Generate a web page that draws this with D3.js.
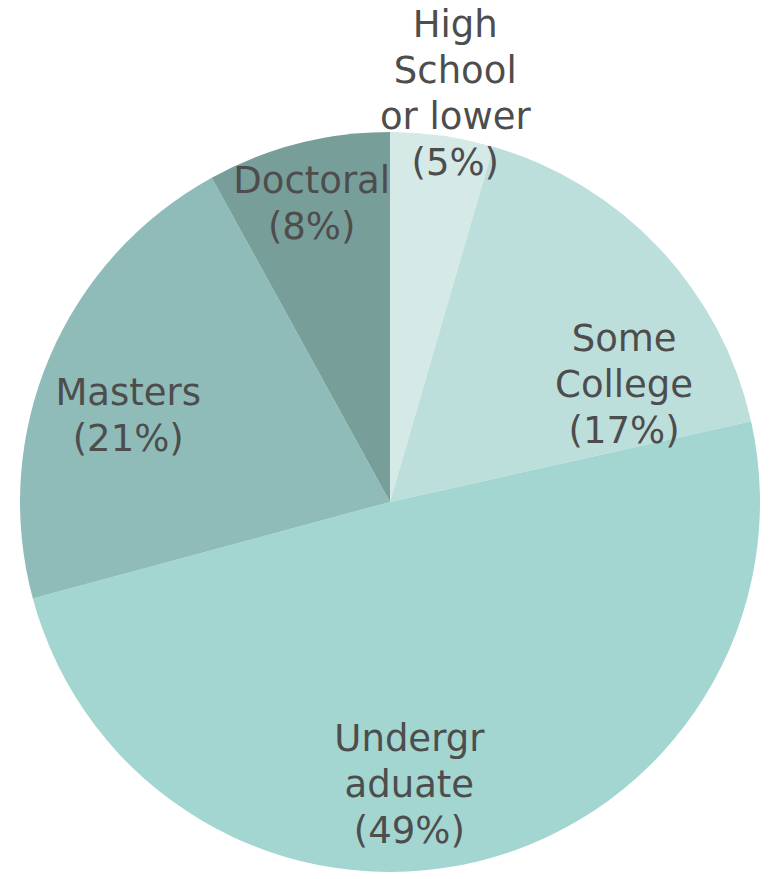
<!DOCTYPE html>
<html>
<head>
<meta charset="utf-8">
<script src="https://cdn.jsdelivr.net/npm/d3@7"></script>
<style>
  html, body { margin: 0; padding: 0; background: #fff; }
  text { font-family: "DejaVu Sans", sans-serif; fill: #4d4d4d; }
</style>
</head>
<body>
<div id="chart"></div>
<script>
// Education level shares (clockwise from 12 o'clock)
var categories = ["High School or lower", "Some College", "Undergraduate", "Masters", "Doctoral"];
var labelLines = [["High", "School", "or lower"], ["Some", "College"], ["Undergr", "aduate"], ["Masters"], ["Doctoral"]];
var values = [4.5, 17.0, 49.3, 21.2, 8.0];
var colors = ["#d5e9e6", "#bddfdc", "#a3d5d1", "#8fbcb9", "#789e9a"];

// label placement: fraction along the slice angle, distance from centre
var labelT = [0.56, 0.77, 0.556, 0.44, 0.49];
var labelR = [414, 262, 283, 276, 309];

var width = 769,
    height = 879,
    radius = 370,
    cx = 390,
    cy = 502,
    fontSize = 37,
    lineH = 46;

var total = d3.sum(values);

var svg = d3.select("#chart").append("svg")
    .attr("width", width)
    .attr("height", height);

var g = svg.append("g")
    .attr("transform", "translate(" + cx + "," + cy + ")");

var pie = d3.pie().sort(null).value(function(d) { return d; });
var arcs = pie(values);

var arc = d3.arc().innerRadius(0).outerRadius(radius);

g.selectAll("path")
    .data(arcs)
    .enter().append("path")
    .attr("d", arc)
    .attr("fill", function(d, i) { return colors[i]; });

var labels = g.selectAll("text.lbl")
    .data(arcs)
    .enter().append("text")
    .attr("class", "lbl")
    .attr("text-anchor", "middle")
    .style("font-size", fontSize + "px")
    .each(function(d, i) {
        var a = d.startAngle + labelT[i] * (d.endAngle - d.startAngle);
        var x = labelR[i] * Math.sin(a);
        var y = -labelR[i] * Math.cos(a);
        var lines = labelLines[i].concat(["(" + Math.round(d.value / total * 100) + "%)"]);
        var y0 = y - (lines.length - 1) * lineH / 2;
        var t = d3.select(this);
        lines.forEach(function(s, k) {
            t.append("tspan")
                .attr("x", x)
                .attr("y", y0 + k * lineH)
                .attr("dy", "0.35em")
                .text(s);
        });
    });
</script>
</body>
</html>
